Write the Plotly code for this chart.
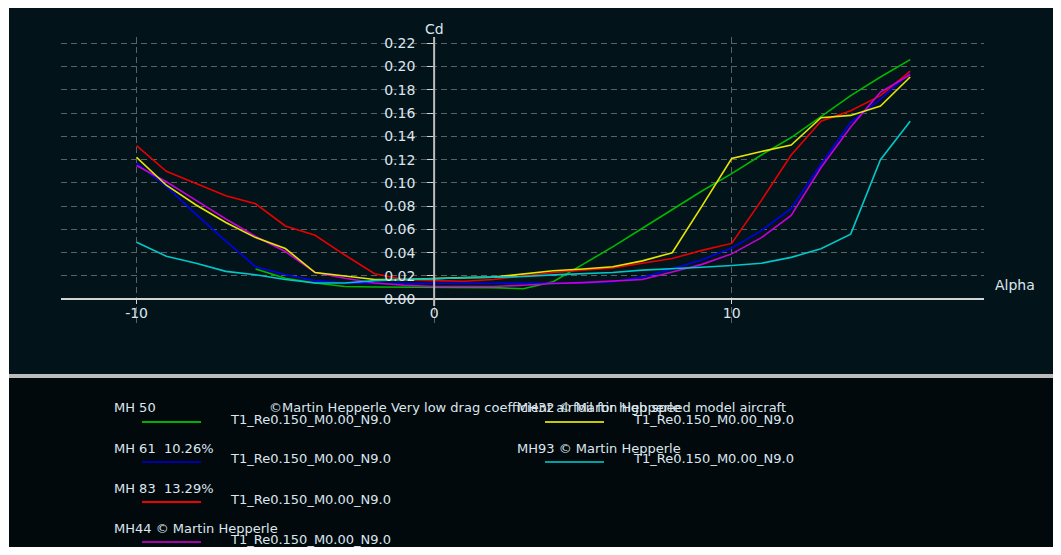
import plotly.graph_objects as go

# The page puts the figure 8px from the top-left corner (body margin),
# so the figure is sized to fill the rest of the 1061x555 window.
OFF = 8
W, H = 1061 - 2 * OFF, 555 - 2 * OFF

# ---------------- data ----------------
alpha = list(range(-10, 17))
alpha_mh50 = list(range(-6, 17))

cd_mh50 = [0.026, 0.018, 0.014, 0.011, 0.0105, 0.0105, 0.0105, 0.0105, 0.010, 0.009,
           0.015, 0.030, 0.045, 0.061, 0.077, 0.093, 0.108, 0.124, 0.139, 0.157,
           0.175, 0.191, 0.206]
cd_mh61 = [0.117, 0.097, 0.073, 0.050, 0.028, 0.021, 0.016, 0.014, 0.0135, 0.0135,
           0.0135, 0.0135, 0.0135, 0.0135, 0.0135, 0.014, 0.015, 0.019, 0.026, 0.034,
           0.044, 0.059, 0.078, 0.116, 0.152, 0.172, 0.195]
cd_mh83 = [0.132, 0.110, 0.0995, 0.089, 0.082, 0.063, 0.055, 0.038, 0.022, 0.017,
           0.016, 0.0155, 0.017, 0.020, 0.023, 0.025, 0.027, 0.031, 0.035, 0.042,
           0.048, 0.085, 0.124, 0.153, 0.162, 0.175, 0.196]
cd_mh44 = [0.115, 0.101, 0.085, 0.069, 0.054, 0.041, 0.023, 0.018, 0.014, 0.012,
           0.011, 0.011, 0.011, 0.012, 0.0135, 0.0143, 0.0155, 0.017, 0.0235, 0.030,
           0.039, 0.053, 0.072, 0.113, 0.148, 0.178, 0.193]
cd_mh32 = [0.122, 0.098, 0.081, 0.066, 0.053, 0.0436, 0.023, 0.020, 0.017, 0.017,
           0.018, 0.0186, 0.019, 0.022, 0.0245, 0.026, 0.028, 0.033, 0.040, 0.080,
           0.121, 0.127, 0.1325, 0.156, 0.158, 0.166, 0.191]
cd_mh93 = [0.049, 0.037, 0.031, 0.024, 0.021, 0.017, 0.014, 0.014, 0.016, 0.017,
           0.018, 0.0185, 0.019, 0.0195, 0.021, 0.022, 0.023, 0.025, 0.026, 0.0275,
           0.029, 0.031, 0.036, 0.0435, 0.056, 0.120, 0.153]

series_names = ["MH 50", "MH 61\u00a0 10.26%", "MH 83\u00a0 13.29%",
                "MH44 \u00a9 Martin Hepperle", "MH32 \u00a9 Martin Hepperle",
                "MH93 \u00a9 Martin Hepperle"]
mh50_comment = "\u00a9Martin Hepperle Very low drag coefficient airfoil for high speed model aircraft"
polar_label = "T1_Re0.150_M0.00_N9.0"
series_alpha = [alpha_mh50, alpha, alpha, alpha, alpha, alpha]
series_cd = [cd_mh50, cd_mh61, cd_mh83, cd_mh44, cd_mh32, cd_mh93]

x_tickvals = [-10, 0, 10]
x_ticktext = ["-10", "0", "10"]
y_tickvals = [0.00, 0.02, 0.04, 0.06, 0.08, 0.10, 0.12, 0.14, 0.16, 0.18, 0.20, 0.22]
x_title = "Alpha"
y_title = "Cd"

# ---------------- style ----------------
line_colors = ["#00b800", "#0000ec", "#e80000", "#c800d8", "#e6e600", "#00c8c8"]
legend_colors = ["#00b000", "#0000a8", "#f00000", "#a800a8", "#c8c800", "#00a0a0"]
chart_bg = "#02141a"
legend_bg = "#01090c"
text_col = "#dde6ee"
grid_col = "#5a6264"
FONT = "DejaVu Sans"

# plot area, in window pixels
PL, PR, PT, PB = 61, 984, 37, 323
x_range = [-12.54, 18.48]
y_range = [-0.0204, 0.2254]


def px2x(px):
    return (px - PL) / (PR - PL)


def py2y(py):
    return (PB - py) / (PB - PT)


fig = go.Figure()
for name, xs, ys, c in zip(series_names, series_alpha, series_cd, line_colors):
    fig.add_trace(go.Scatter(x=xs, y=ys, mode="lines", name=name,
                             line=dict(color=c, width=1.6), showlegend=False))

x_axis_pos = (0 - y_range[0]) / (y_range[1] - y_range[0])
y_axis_pos = (0 - x_range[0]) / (x_range[1] - x_range[0])

fig.update_layout(
    width=W, height=H,
    margin=dict(l=PL - OFF, r=W - (PR - OFF), t=PT - OFF, b=H - (PB - OFF), pad=0),
    paper_bgcolor=chart_bg,
    plot_bgcolor="rgba(0,0,0,0)",
    font=dict(family=FONT, color=text_col, size=14),
    showlegend=False,
    xaxis=dict(range=x_range, anchor="free", position=x_axis_pos,
               tickvals=x_tickvals, ticktext=x_ticktext,
               showgrid=True, gridcolor=grid_col, griddash="6px,4px", gridwidth=1,
               zeroline=False, showline=True, linecolor="#d4d4d4", linewidth=1.5,
               ticks="outside", ticklen=4, tickcolor="#d4d4d4",
               ticklabelstandoff=-3,
               tickfont=dict(size=14, color=text_col, family=FONT)),
    yaxis=dict(range=y_range, anchor="free", position=y_axis_pos,
               tickvals=y_tickvals, tickformat=".2f",
               showgrid=True, gridcolor=grid_col, griddash="6px,4px", gridwidth=1,
               zeroline=False, showline=False,
               ticks="outside", ticklen=7, tickcolor="#d4d4d4",
               ticklabelstandoff=9,
               tickfont=dict(size=14, color=text_col, family=FONT)),
)

shapes = []
# thin white edge on the left, separator and legend panel
shapes.append(dict(type="rect", xref="paper", yref="paper", layer="below",
                   x0=px2x(OFF - 2), x1=px2x(9), y0=py2y(H + 2 * OFF + 4), y1=py2y(OFF - 2),
                   fillcolor="#ffffff", line=dict(width=0)))
shapes.append(dict(type="rect", xref="paper", yref="paper", layer="below",
                   x0=px2x(9), x1=px2x(W + 2 * OFF + 4), y0=py2y(378), y1=py2y(374),
                   fillcolor="#bcbcbc", line=dict(width=0)))
shapes.append(dict(type="rect", xref="paper", yref="paper", layer="below",
                   x0=px2x(9), x1=px2x(W + 2 * OFF + 4), y0=py2y(H + 2 * OFF + 4), y1=py2y(378),
                   fillcolor=legend_bg, line=dict(width=0)))
# background behind y tick labels (hides dashed grid there)
shapes.append(dict(type="rect", xref="paper", yref="paper", layer="between",
                   x0=px2x(368), x1=px2x(419), y0=py2y(292), y1=1,
                   fillcolor=chart_bg, line=dict(width=0)))
# vertical Cd axis line at Alpha = 0, from just below the Alpha axis to the top
shapes.append(dict(type="line", xref="x", x0=0, x1=0, yref="paper",
                   y0=py2y(306), y1=1, layer="above",
                   line=dict(color="#bcbcbc", width=2)))

annotations = []
annotations.append(dict(text=y_title, xref="x", x=0, yref="paper", y=py2y(29),
                        xanchor="center", yanchor="middle", showarrow=False,
                        font=dict(size=14, color=text_col, family=FONT)))
annotations.append(dict(text=x_title, xref="paper", x=px2x(993), yref="paper", y=py2y(285),
                        xanchor="left", yanchor="middle", showarrow=False,
                        font=dict(size=14, color=text_col, family=FONT)))

# custom legend (window pixel positions)
LF = 13
col_x = [112, 515]
row_y = [408, 448, 488, 528]
slots = [(0, 0), (0, 1), (0, 2), (0, 3), (1, 0), (1, 1)]
for i, (name, c) in enumerate(zip(series_names, legend_colors)):
    ci, ri = slots[i]
    x0, y0 = col_x[ci], row_y[ri]
    annotations.append(dict(text=name, xref="paper", yref="paper",
                            x=px2x(x0), y=py2y(y0), xanchor="left", yanchor="middle",
                            showarrow=False, font=dict(size=LF, color=text_col, family=FONT)))
    annotations.append(dict(text=polar_label, xref="paper", yref="paper",
                            x=px2x(x0 + 116), y=py2y(y0 + 11), xanchor="left", yanchor="middle",
                            showarrow=False, font=dict(size=LF, color=text_col, family=FONT)))
    shapes.append(dict(type="line", xref="paper", yref="paper", layer="above",
                       x0=px2x(x0 + 30), x1=px2x(x0 + 89), y0=py2y(y0 + 14), y1=py2y(y0 + 14),
                       line=dict(color=c, width=2)))
annotations.append(dict(text=mh50_comment, xref="paper", yref="paper",
                        x=px2x(267), y=py2y(row_y[0]), xanchor="left", yanchor="middle",
                        showarrow=False, font=dict(size=LF, color=text_col, family=FONT)))

fig.update_layout(shapes=shapes, annotations=annotations)
fig.write_html("out.html")
